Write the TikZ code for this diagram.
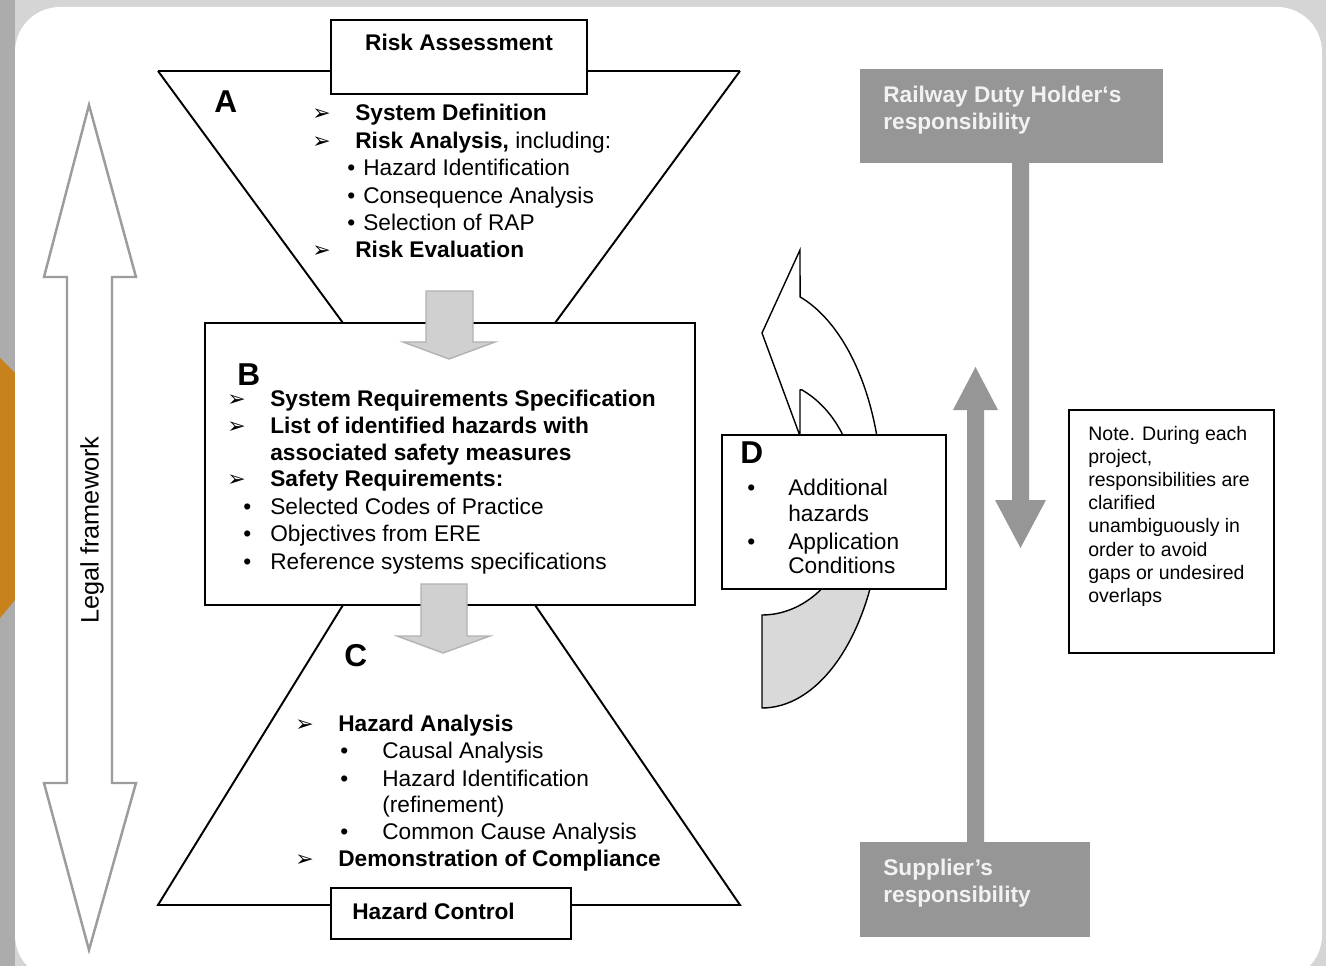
\documentclass[tikz,border=0pt]{standalone}
\usepackage{fontspec}
\setmainfont{Liberation Sans}
\newfontfamily\dingfont{DejaVu Sans}
\definecolor{bggray}{HTML}{D5D5D5}
\definecolor{edgegray}{HTML}{ACACAC}
\definecolor{taborange}{HTML}{C8821C}
\definecolor{flowgray}{HTML}{D0D0D0}
\definecolor{flowedge}{HTML}{B2B2B2}
\definecolor{respgray}{HTML}{969696}
\definecolor{legalgray}{HTML}{9C9C9C}
\definecolor{curvegray}{HTML}{D9D9D9}
\newcommand{\ptritem}[1]{\makebox[0.86cm][l]{\dingfont\fontsize{12.5}{14}\selectfont ➢}#1}
\newcommand{\dotitem}[2]{\makebox[#1][l]{\textbullet}#2}
\begin{document}
\begin{tikzpicture}[x=0.02cm,y=-0.02cm,
    line/.style={line width=1.1pt},
    box/.style={draw,line width=1.1pt,fill=white,inner sep=0},
    txt/.style={anchor=base west,inner sep=0,font={\fontsize{12.9}{15}\selectfont}},
    txtb/.style={anchor=base west,inner sep=0,font={\fontsize{12.9}{15}\selectfont\bfseries}},
    letter/.style={anchor=base west,inner sep=0,font={\fontsize{18}{20}\selectfont\bfseries}},
    resp/.style={fill=respgray,inner sep=0},
    resptxt/.style={txtb,text=white!95!black},
    notetxt/.style={anchor=base west,inner sep=0,font={\fontsize{11.1}{13}\selectfont}},
    flow/.style={fill=flowgray,draw=flowedge,line width=0.8pt}]
    \useasboundingbox (0,0) rectangle (1326,966);

    % background
    \fill[bggray] (0,0) rectangle (1326,966);
    \fill[edgegray] (0,0) rectangle (15,966);
    \fill[taborange] (0,358) -- (15,373) -- (15,600) -- (0,618) -- cycle;
    \fill[white,rounded corners=0.9cm] (15,7) rectangle (1322,980);

    % legal framework
    \filldraw[draw=legalgray,fill=white,line width=1.4pt] (89,105) -- (136,277) -- (112,277) -- (112,783) -- (136,783)
        -- (89,950) -- (44,783) -- (67,783) -- (67,277) -- (44,277) -- cycle;
    \node[txt,anchor=center,rotate=90,font={\fontsize{14.4}{16}\selectfont}] (legal) at (92,530) {Legal framework};

    % funnels
    \draw[line] (158,71) -- (740,71);
    \draw[line] (158,71) -- (343,323);
    \draw[line] (740,71) -- (555,323);
    \draw[line] (343,605) -- (158,905) -- (740,905) -- (535,605);

    % A
    \node[box,minimum width=5.12cm,minimum height=1.48cm] (ra) at (459,57) {};
    \node[txtb,anchor=base] (ratext) at (459,51) {Risk Assessment};
    \node[letter] (la) at (214,113) {A};
    \node[txtb] (sd) at (312,121) {\ptritem{System Definition}};
    \node[txt] (ran) at (312,149) {\ptritem{\textbf{Risk Analysis,} including:}};
    \node[txt] (hi) at (347,176) {\dotitem{0.32cm}{Hazard Identification}};
    \node[txt] (ca) at (347,204) {\dotitem{0.32cm}{Consequence Analysis}};
    \node[txt] (rap) at (347,231) {\dotitem{0.32cm}{Selection of RAP}};
    \node[txtb] (re) at (312,258) {\ptritem{Risk Evaluation}};

    % B
    \node[box,minimum width=9.8cm,minimum height=5.64cm] (b) at (450,464) {};
    \node[letter] (lb) at (237,385) {B};
    \node[txtb] (srs) at (227,406) {\ptritem{System Requirements Specification}};
    \node[txtb] (loh) at (227,433) {\ptritem{List of identified hazards with}};
    \node[txtb] (asm) at (270,460) {associated safety measures};
    \node[txtb] (sr) at (227,486) {\ptritem{Safety Requirements:}};
    \node[txt] (scp) at (243,514) {\dotitem{0.54cm}{Selected Codes of Practice}};
    \node[txt] (ere) at (243,541) {\dotitem{0.54cm}{Objectives from ERE}};
    \node[txt] (rss) at (243,569) {\dotitem{0.54cm}{Reference systems specifications}};

    \filldraw[flow] (426,291) -- (473,291) -- (473,342) -- (495,342) -- (449,359) -- (403,342) -- (426,342) -- cycle;
    \filldraw[flow] (421,584) -- (467,584) -- (467,636) -- (490,636) -- (443,653) -- (397,636) -- (421,636) -- cycle;

    % C
    \node[letter] (lc) at (344,666) {C};
    \node[txtb] (ha) at (295,731) {\ptritem{Hazard Analysis}};
    \node[txt] (cau) at (340,758) {\dotitem{0.84cm}{Causal Analysis}};
    \node[txt] (hir) at (340,786) {\dotitem{0.84cm}{Hazard Identification}};
    \node[txt] (ref) at (382,812) {(refinement)};
    \node[txt] (cca) at (340,839) {\dotitem{0.84cm}{Common Cause Analysis}};
    \node[txtb] (doc) at (295,866) {\ptritem{Demonstration of Compliance}};
    \node[box,minimum width=4.8cm,minimum height=1.02cm] (hc) at (451,913.5) {};
    \node[txtb] (hctext) at (352,919) {Hazard Control};

    % D with curved arrow
    \filldraw[line width=0.8pt,fill=white] plot[domain=0:-71.5,samples=40] ({762+120*cos(\x)},{497+211*sin(\x)})
        -- (800,250) -- (762,333) -- (800,436) -- (800,390)
        -- plot[domain=-65.4:0,samples=40] ({762+95*cos(\x)},{497+118*sin(\x)}) -- cycle;
    \filldraw[line width=0.8pt,fill=curvegray] plot[domain=0:90,samples=40] ({762+120*cos(\x)},{497+211*sin(\x)})
        -- plot[domain=90:0,samples=40] ({762+95*cos(\x)},{497+118*sin(\x)}) -- cycle;
    \node[box,minimum width=4.48cm,minimum height=3.08cm] (d) at (834,512) {};
    \node[letter] (ld) at (740,463) {D};
    \node[txt] (ah) at (747,495) {\dotitem{0.82cm}{Additional}};
    \node[txt] (ah2) at (788,521) {hazards};
    \node[txt] (ac) at (747,549) {\dotitem{0.82cm}{Application}};
    \node[txt] (ac2) at (788,573) {Conditions};

    % responsibilities
    \node[resp,minimum width=6.06cm,minimum height=1.88cm] (duty) at (1011.5,116) {};
    \node[resptxt] (duty1) at (883,103) {Railway Duty Holder‘s};
    \node[resptxt] (duty2) at (883,130) {responsibility};
    \fill[respgray] (1012,163) -- (1012,500) -- (995,500) -- (1020.5,548) -- (1046,500) -- (1029,500) -- (1029,163) -- cycle;

    \node[resp,minimum width=4.6cm,minimum height=1.9cm] (supp) at (975,889.5) {};
    \node[resptxt] (supp1) at (883,875) {Supplier’s};
    \node[resptxt] (supp2) at (883,902) {responsibility};
    \fill[respgray] (967,842) -- (967,410) -- (953,410) -- (975.5,367) -- (998,410) -- (984,410) -- (984,842) -- cycle;

    % note
    \node[box,line width=1pt,minimum width=4.1cm,minimum height=4.86cm] (note) at (1171.5,531.5) {};
    \node[notetxt] (n1) at (1088,440) {Note. During each};
    \node[notetxt] (n2) at (1088,463) {project,};
    \node[notetxt] (n3) at (1088,486) {responsibilities are};
    \node[notetxt] (n4) at (1088,509) {clarified};
    \node[notetxt] (n5) at (1088,532) {unambiguously in};
    \node[notetxt] (n6) at (1088,556) {order to avoid};
    \node[notetxt] (n7) at (1088,579) {gaps or undesired};
    \node[notetxt] (n8) at (1088,602) {overlaps};
\end{tikzpicture}
\end{document}
